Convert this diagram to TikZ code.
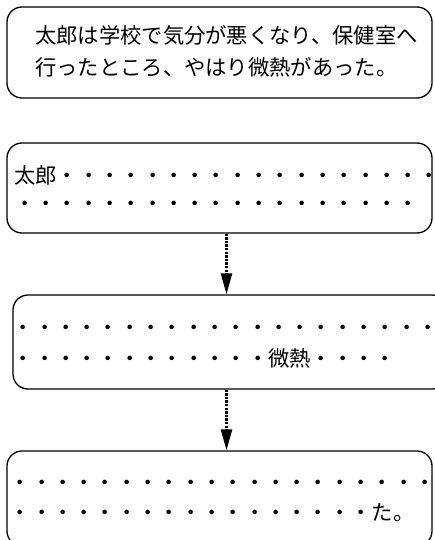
\documentclass[tikz,border=0pt]{standalone}
\usepackage{fontspec}
\newfontfamily\jp{Noto Sans CJK JP}
\usetikzlibrary{arrows.meta}
\begin{document}
\begin{tikzpicture}[x=1pt,y=-1pt,
  box/.style={draw=black, line width=1.3pt, rounded corners=15pt, inner sep=0pt},
  txt/.style={anchor=base west, inner sep=0pt, font=\jp\fontsize{21.3pt}{21.3pt}\selectfont},
  flow/.style={line width=2.4pt, dash pattern=on 2.4pt off 1.2pt, -{Triangle[length=21pt,width=11pt]}}]
\useasboundingbox (0,0) rectangle (434,540);
\node[box, minimum width=425pt, minimum height=91pt] (b1) at (219.5,52.5) {};
\node[box, minimum width=425pt, minimum height=90pt] (b2) at (219.5,188) {};
\node[box, minimum width=434pt, minimum height=94pt] (b3) at (230,342) {};
\node[box, minimum width=425pt, minimum height=95pt] (b4) at (219.5,498.5) {};
\node[txt] (t1) at (35,44) {太郎は学校で気分が悪くなり、保健室へ};
\node[txt] (t2) at (35,76) {行ったところ、やはり微熱があった。};
\node[txt] (r21) at (14,183) {太郎・・・・・・・・・・・・・・・・・・};
\node[txt] (r22) at (14,211) {・・・・・・・・・・・・・・・・・・・};
\node[txt] (r31) at (12.5,335) {・・・・・・・・・・・・・・・・・・・・};
\node[txt] (r32) at (12.5,366) {・・・・・・・・・・・・微熱・・・・};
\node[txt] (r41) at (9.5,490) {・・・・・・・・・・・・・・・・・・・・};
\node[txt] (r42) at (9.5,520) {・・・・・・・・・・・・・・・・・た。};
\coordinate (ax) at (226.5,0);
\draw[flow] (b2.south -| ax) -- (b3.north -| ax);
\draw[flow] (b3.south -| ax) -- (b4.north -| ax);
\end{tikzpicture}
\end{document}
